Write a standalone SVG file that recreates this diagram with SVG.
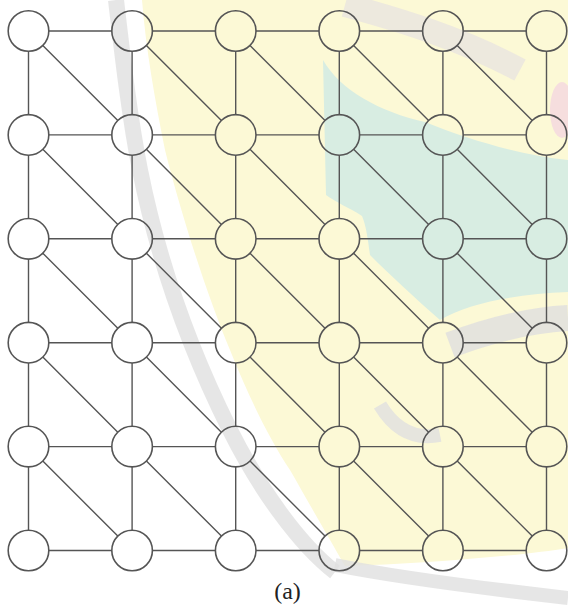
<svg xmlns="http://www.w3.org/2000/svg" width="568" height="605" viewBox="0 0 568 605">
<style>
.edge{fill:none;stroke:#555;stroke-width:1.4}
.node{fill:none;stroke:#555;stroke-width:1.6}
.lbl{font-family:"Liberation Serif","Times New Roman",serif;font-size:24px;fill:#222}
.wm{fill:none;stroke:#e0e0e0;opacity:0.8}
</style>
<rect width="568" height="605" fill="#ffffff"/>
<g id="watermark">
<path d="M142,0 L568,0 L568,548 C 520,556 420,564 345,566 C 330,540 310,505 290,470 C 270,440 250,400 230,350 C 205,290 180,210 165,150 C 155,100 146,50 142,0 Z" fill="#fcf9d6"/>
<path d="M323,60 C 340,90 380,112 425,122 C 470,140 520,155 568,160 L568,292 C 520,294 470,302 440,320 C 415,298 390,275 370,255 C 368,240 366,225 362,216 C 350,208 335,202 326,195 Z" fill="#d8ede2"/>
<path class="wm" d="M116,0 C 123,60 130,120 140,170 C 160,270 195,360 230,430 C 260,490 300,545 335,572" stroke-width="16"/>
<path class="wm" d="M335,565 C 400,578 480,588 568,598" stroke-width="14"/>
<path class="wm" d="M345,5 C 400,20 460,38 520,70" stroke-width="24" style="stroke:#e2dde2;opacity:0.6"/>
<path class="wm" d="M450,345 C 490,330 530,320 568,318" stroke-width="26" style="stroke:#dcdce0;opacity:0.7"/>
<path class="wm" d="M380,405 C 395,430 415,440 440,435" stroke-width="14"/>
<ellipse cx="562" cy="110" rx="12" ry="28" fill="#f6dede"/>
</g>
<g id="connectors">
<path class="edge" d="M48.8,31 h63 m40.6,0 h63 m40.6,0 h63 m40.6,0 h63 m40.6,0 h63
M48.8,134.9 h63 m40.6,0 h63 m40.6,0 h63 m40.6,0 h63 m40.6,0 h63
M48.8,238.8 h63 m40.6,0 h63 m40.6,0 h63 m40.6,0 h63 m40.6,0 h63
M48.8,342.7 h63 m40.6,0 h63 m40.6,0 h63 m40.6,0 h63 m40.6,0 h63
M48.8,446.6 h63 m40.6,0 h63 m40.6,0 h63 m40.6,0 h63 m40.6,0 h63
M48.8,550.5 h63 m40.6,0 h63 m40.6,0 h63 m40.6,0 h63 m40.6,0 h63"/>
<path class="edge" d="M28.5,51.3 v63.3 m0,40.6 v63.3 m0,40.6 v63.3 m0,40.6 v63.3 m0,40.6 v63.3
M132.1,51.3 v63.3 m0,40.6 v63.3 m0,40.6 v63.3 m0,40.6 v63.3 m0,40.6 v63.3
M235.7,51.3 v63.3 m0,40.6 v63.3 m0,40.6 v63.3 m0,40.6 v63.3 m0,40.6 v63.3
M339.3,51.3 v63.3 m0,40.6 v63.3 m0,40.6 v63.3 m0,40.6 v63.3 m0,40.6 v63.3
M442.9,51.3 v63.3 m0,40.6 v63.3 m0,40.6 v63.3 m0,40.6 v63.3 m0,40.6 v63.3
M546.5,51.3 v63.3 m0,40.6 v63.3 m0,40.6 v63.3 m0,40.6 v63.3 m0,40.6 v63.3"/>
<path class="edge" d="M42.8,45.4 l75,75.1 m28.6,-75.1 l75,75.1 m28.6,-75.1 l75,75.1 m28.6,-75.1 l75,75.1 m28.6,-75.1 l75,75.1
M42.8,149.3 l75,75.1 m28.6,-75.1 l75,75.1 m28.6,-75.1 l75,75.1 m28.6,-75.1 l75,75.1 m28.6,-75.1 l75,75.1
M42.8,253.2 l75,75.1 m28.6,-75.1 l75,75.1 m28.6,-75.1 l75,75.1 m28.6,-75.1 l75,75.1 m28.6,-75.1 l75,75.1
M42.8,357.1 l75,75.1 m28.6,-75.1 l75,75.1 m28.6,-75.1 l75,75.1 m28.6,-75.1 l75,75.1 m28.6,-75.1 l75,75.1
M42.8,461 l75,75.1 m28.6,-75.1 l75,75.1 m28.6,-75.1 l75,75.1 m28.6,-75.1 l75,75.1 m28.6,-75.1 l75,75.1"/>
</g>
<g id="n0_0"><circle class="node" cx="28.5" cy="31" r="20.3"/></g>
<g id="n0_1"><circle class="node" cx="132.1" cy="31" r="20.3"/></g>
<g id="n0_2"><circle class="node" cx="235.7" cy="31" r="20.3"/></g>
<g id="n0_3"><circle class="node" cx="339.3" cy="31" r="20.3"/></g>
<g id="n0_4"><circle class="node" cx="442.9" cy="31" r="20.3"/></g>
<g id="n0_5"><circle class="node" cx="546.5" cy="31" r="20.3"/></g>
<g id="n1_0"><circle class="node" cx="28.5" cy="134.9" r="20.3"/></g>
<g id="n1_1"><circle class="node" cx="132.1" cy="134.9" r="20.3"/></g>
<g id="n1_2"><circle class="node" cx="235.7" cy="134.9" r="20.3"/></g>
<g id="n1_3"><circle class="node" cx="339.3" cy="134.9" r="20.3"/></g>
<g id="n1_4"><circle class="node" cx="442.9" cy="134.9" r="20.3"/></g>
<g id="n1_5"><circle class="node" cx="546.5" cy="134.9" r="20.3"/></g>
<g id="n2_0"><circle class="node" cx="28.5" cy="238.8" r="20.3"/></g>
<g id="n2_1"><circle class="node" cx="132.1" cy="238.8" r="20.3"/></g>
<g id="n2_2"><circle class="node" cx="235.7" cy="238.8" r="20.3"/></g>
<g id="n2_3"><circle class="node" cx="339.3" cy="238.8" r="20.3"/></g>
<g id="n2_4"><circle class="node" cx="442.9" cy="238.8" r="20.3"/></g>
<g id="n2_5"><circle class="node" cx="546.5" cy="238.8" r="20.3"/></g>
<g id="n3_0"><circle class="node" cx="28.5" cy="342.7" r="20.3"/></g>
<g id="n3_1"><circle class="node" cx="132.1" cy="342.7" r="20.3"/></g>
<g id="n3_2"><circle class="node" cx="235.7" cy="342.7" r="20.3"/></g>
<g id="n3_3"><circle class="node" cx="339.3" cy="342.7" r="20.3"/></g>
<g id="n3_4"><circle class="node" cx="442.9" cy="342.7" r="20.3"/></g>
<g id="n3_5"><circle class="node" cx="546.5" cy="342.7" r="20.3"/></g>
<g id="n4_0"><circle class="node" cx="28.5" cy="446.6" r="20.3"/></g>
<g id="n4_1"><circle class="node" cx="132.1" cy="446.6" r="20.3"/></g>
<g id="n4_2"><circle class="node" cx="235.7" cy="446.6" r="20.3"/></g>
<g id="n4_3"><circle class="node" cx="339.3" cy="446.6" r="20.3"/></g>
<g id="n4_4"><circle class="node" cx="442.9" cy="446.6" r="20.3"/></g>
<g id="n4_5"><circle class="node" cx="546.5" cy="446.6" r="20.3"/></g>
<g id="n5_0"><circle class="node" cx="28.5" cy="550.5" r="20.3"/></g>
<g id="n5_1"><circle class="node" cx="132.1" cy="550.5" r="20.3"/></g>
<g id="n5_2"><circle class="node" cx="235.7" cy="550.5" r="20.3"/></g>
<g id="n5_3"><circle class="node" cx="339.3" cy="550.5" r="20.3"/></g>
<g id="n5_4"><circle class="node" cx="442.9" cy="550.5" r="20.3"/></g>
<g id="n5_5"><circle class="node" cx="546.5" cy="550.5" r="20.3"/></g>
<text class="lbl" x="287.5" y="599" text-anchor="middle">(a)</text>
</svg>
